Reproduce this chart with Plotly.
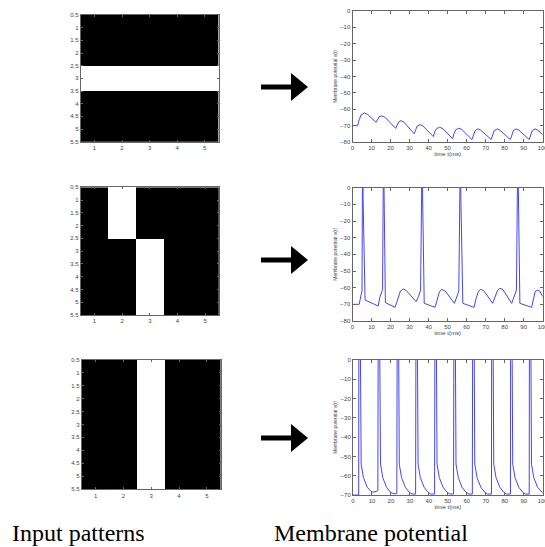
import plotly.graph_objects as go

W, H = 545, 547

# ---------------- data ----------------
grid_x = [1, 2, 3, 4, 5]
grid_y = [1, 2, 3, 4, 5]
pattern_1 = [[0, 0, 0, 0, 0],
             [0, 0, 0, 0, 0],
             [1, 1, 1, 1, 1],
             [0, 0, 0, 0, 0],
             [0, 0, 0, 0, 0]]
pattern_2 = [[0, 1, 0, 0, 0],
             [0, 1, 0, 0, 0],
             [0, 0, 1, 0, 0],
             [0, 0, 1, 0, 0],
             [0, 0, 1, 0, 0]]
pattern_3 = [[0, 0, 1, 0, 0],
             [0, 0, 1, 0, 0],
             [0, 0, 1, 0, 0],
             [0, 0, 1, 0, 0],
             [0, 0, 1, 0, 0]]
img_ytick_vals = [0.5, 1, 1.5, 2, 2.5, 3, 3.5, 4, 4.5, 5, 5.5]
img_ytick_text = ["0.5", "1", "1.5", "2", "2.5", "3", "3.5", "4", "4.5", "5", "5.5"]
img_xtick_vals = [1, 2, 3, 4, 5]

t1 = [0, 2.7, 3.5, 4.5, 6.2, 8.0, 12.4,
      13.2, 14.0, 15.2, 17.0, 22.7,
      23.5, 24.3, 25.5, 27.0, 32.4,
      33.2, 34.0, 35.5, 37.0, 42.5,
      43.3, 44.2, 45.8, 47.5, 52.6,
      53.4, 54.3, 55.9, 57.5, 62.8,
      63.6, 64.5, 66.0, 67.5, 72.9,
      73.7, 74.5, 76.0, 77.5, 83.0,
      83.8, 84.6, 86.0, 87.5, 92.9,
      93.7, 94.5, 96.0, 97.5, 100]
v1 = [-70, -70, -66.5, -63.5, -62.3, -63.2, -68,
      -65.8, -64.6, -64, -64.8, -71.7,
      -69, -67.6, -67, -67.8, -75,
      -72, -70.3, -69.4, -70.2, -76.7,
      -73.6, -71.8, -71, -71.8, -78,
      -74.8, -72.5, -71.6, -72.4, -78.5,
      -75.2, -73, -72, -72.8, -78.5,
      -75.2, -73, -72, -72.8, -78.5,
      -75.2, -73, -72, -72.8, -78.5,
      -75.2, -73, -72, -72.8, -75.5]

t2 = [0, 3.5, 4.4, 5.0, 5.3, 5.6, 6.6, 12.8,
      13.5, 14.3, 15.1, 15.8, 16.3, 16.6, 17.3, 22.4,
      23.8, 25.2, 26.8, 28.2, 33.4,
      34.7, 35.8, 36.6, 36.9, 37.7, 43.4,
      44.7, 45.7, 46.9, 48.7, 53.6,
      54.8, 55.9, 56.7, 57.0, 58.0, 63.9,
      65.0, 66.2, 67.4, 69.0, 73.7,
      75.0, 76.3, 77.6, 79.0, 83.7,
      85.0, 86.2, 86.9, 87.2, 88.0, 94.2,
      95.0, 96.0, 97.2, 98.5, 100]
v2 = [-70, -70, -65, -62, 25, -8, -67.4, -70.6,
      -71, -66, -62.4, -61, 25, -8, -69, -71.8,
      -66.4, -62, -60.8, -61.6, -68.4,
      -65.4, -61.4, 25, -8, -69.4, -71.8,
      -66.4, -62.5, -61, -62, -69.4,
      -65.4, -62, 25, -8, -69.4, -71.8,
      -66.4, -62.2, -61, -61.8, -69.4,
      -65, -61.5, -60.4, -61, -69.4,
      -65, -61.5, 25, -8, -69.4, -71.8,
      -67, -62.5, -61.4, -62.2, -65.4]

t3 = [0, 3.0, 3.1, 3.8, 4.3, 5.5, 7.5, 9.5, 11.0, 13.1,
      13.3, 14.0, 14.5, 15.7, 17.7, 19.7, 21.2, 23.1,
      23.3, 24.0, 24.4, 25.6, 27.6, 29.6, 31.1, 33.0,
      33.2, 33.9, 34.3, 35.5, 37.5, 39.5, 41.0, 43.0,
      43.2, 43.9, 44.3, 45.5, 47.5, 49.5, 51.0, 53.0,
      53.2, 53.9, 54.3, 55.5, 57.5, 59.5, 61.0, 62.9,
      63.1, 63.8, 64.2, 65.4, 67.4, 69.4, 70.9, 73.0,
      73.1, 73.8, 74.2, 75.4, 77.4, 79.4, 80.9, 83.0,
      83.1, 83.8, 84.2, 85.4, 87.4, 89.4, 90.9, 92.9,
      93.0, 93.7, 94.1, 95.3, 97.3, 99.3, 100]
v3 = [-70, -70, 20, 20, -54, -61, -66, -68.2, -68.5, -67.8,
      20, 20, -54, -61, -66, -68.5, -69.3, -69.3,
      20, 20, -54, -61, -66, -68.5, -69.5, -69.5,
      20, 20, -54, -61, -66, -68.5, -69.5, -69.5,
      20, 20, -54, -61, -66, -68.5, -69.5, -69.5,
      20, 20, -54, -61, -66, -68.5, -69.5, -69.5,
      20, 20, -54, -61, -66, -68.5, -69.5, -69.5,
      20, 20, -54, -61, -66, -68.5, -69.5, -69.5,
      20, 20, -54, -61, -66, -68.5, -69.5, -69.5,
      20, 20, -54, -61, -66, -68.5, -68.8]

time_ticks = [0, 10, 20, 30, 40, 50, 60, 70, 80, 90, 100]
v_ticks_80 = [0, -10, -20, -30, -40, -50, -60, -70, -80]
v_ticks_70 = [0, -10, -20, -30, -40, -50, -60, -70]

# ---------------- layout helpers ----------------
def px_x(a, b):
    return [a / W, b / W]

def px_y(top, bottom):
    return [1 - bottom / H, 1 - top / H]

AX = "#666666"
TF = dict(family="Liberation Sans, Arial", size=6, color="#444444")

fig = go.Figure()

patterns = [pattern_1, pattern_2, pattern_3]
traces = [(t1, v1, -80, v_ticks_80), (t2, v2, -80, v_ticks_80), (t3, v3, -70, v_ticks_70)]
img_boxes = [((80.7, 218.5), (15, 141.7)), ((80.7, 219), (187.3, 315)), ((81.7, 220.7), (359.5, 489.3))]
plot_boxes = [((352.5, 542.7), (11, 142)), ((352.5, 542.7), (187.7, 321)), ((353, 542.7), (360, 495))]
x_titles = ["time t(ms)", "time t(ms)", "time t(ms)"]
arrow_y = [87, 260, 438]

layout = dict(width=W, height=H, margin=dict(l=0, r=0, t=0, b=0, autoexpand=False),
              paper_bgcolor="white", plot_bgcolor="white", showlegend=False)

for i in range(3):
    xi = 2 * i + 1
    xj = 2 * i + 2
    sx = "" if xi == 1 else str(xi)
    # image
    fig.add_trace(go.Heatmap(z=patterns[i], x=grid_x, y=grid_y,
                             colorscale=[[0, "black"], [1, "white"]],
                             zmin=0, zmax=1, showscale=False,
                             xaxis="x" + sx, yaxis="y" + sx, hoverinfo="skip"))
    (ix0, ix1), (iy0, iy1) = img_boxes[i]
    layout["xaxis" + sx] = dict(domain=px_x(ix0, ix1), anchor="y" + sx, range=[0.5, 5.5],
                                tickvals=img_xtick_vals, ticks="inside", ticklen=2,
                                tickcolor=AX, showline=True, linecolor=AX, linewidth=1,
                                mirror="ticks", tickfont=TF, showgrid=False, zeroline=False,
                                automargin=False)
    layout["yaxis" + sx] = dict(domain=px_y(iy0, iy1), anchor="x" + sx, range=[5.5, 0.5],
                                tickvals=img_ytick_vals, ticktext=img_ytick_text,
                                ticks="inside", ticklen=2, tickcolor=AX,
                                showline=True, linecolor=AX, linewidth=1, mirror="ticks",
                                tickfont=TF, showgrid=False, zeroline=False, automargin=False)
    # membrane potential
    t, v, vmin, vt = traces[i]
    fig.add_trace(go.Scatter(x=t, y=v, mode="lines",
                             line=dict(color="rgb(70,70,235)", width=1),
                             xaxis="x" + str(xj), yaxis="y" + str(xj), hoverinfo="skip"))
    (px0, px1), (py0, py1) = plot_boxes[i]
    layout["xaxis" + str(xj)] = dict(domain=px_x(px0, px1), anchor="y" + str(xj), range=[0, 100],
                                     tickvals=time_ticks, ticks="inside", ticklen=3,
                                     tickcolor=AX, showline=True, linecolor=AX, linewidth=1,
                                     mirror="ticks", tickfont=TF, showgrid=False, zeroline=False,
                                     ticklabeloverflow="allow", automargin=False,
                                     title=dict(text=x_titles[i], font=TF, standoff=1))
    layout["yaxis" + str(xj)] = dict(domain=px_y(py0, py1), anchor="x" + str(xj), range=[vmin, 0],
                                     tickvals=vt, ticks="inside", ticklen=3,
                                     tickcolor=AX, showline=True, linecolor=AX, linewidth=1,
                                     mirror="ticks", tickfont=TF, showgrid=False, zeroline=False,
                                     automargin=False,
                                     title=dict(text="Membrane potential v(t)",
                                                font=dict(family="Liberation Sans, Arial", size=5, color="#444444"),
                                                standoff=2))

# arrows
shapes = []
for yc in arrow_y:
    def P(x, y):
        return f"{x / W:.5f},{1 - y / H:.5f}"
    path = (f"M {P(261, yc - 2.5)} L {P(291, yc - 2.5)} L {P(291, yc - 14)} L {P(308, yc)} "
            f"L {P(291, yc + 14)} L {P(291, yc + 2.5)} L {P(261, yc + 2.5)} Z")
    shapes.append(dict(type="path", xref="paper", yref="paper", path=path,
                       fillcolor="black", line=dict(color="black", width=0)))
layout["shapes"] = shapes

layout["annotations"] = [
    dict(text="Input patterns", x=10 / W, y=1 - 533 / H, xref="paper", yref="paper",
         xanchor="left", yanchor="middle", showarrow=False,
         font=dict(family="Liberation Serif, Times New Roman", size=24, color="black")),
    dict(text="Membrane potential", x=272 / W, y=1 - 533 / H, xref="paper", yref="paper",
         xanchor="left", yanchor="middle", showarrow=False,
         font=dict(family="Liberation Serif, Times New Roman", size=24, color="black")),
]

fig.update_layout(**layout)
fig.write_html("out.html", config={"displayModeBar": False},
               post_script="document.body.style.margin='0';document.body.style.padding='0';document.body.style.overflow='hidden';")
